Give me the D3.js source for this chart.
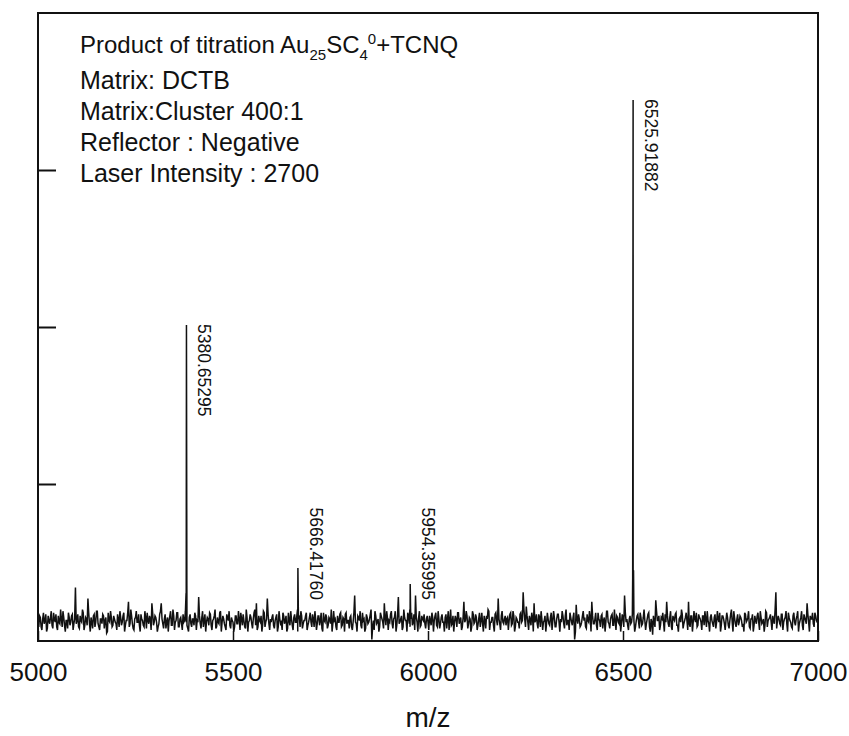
<!DOCTYPE html>
<html><head><meta charset="utf-8">
<script src="https://cdn.jsdelivr.net/npm/d3@7/dist/d3.min.js"></script>
<style>
body{margin:0;background:#fff}
text{font-family:"Liberation Sans",Arial,Helvetica,sans-serif;fill:#111}
</style>
</head><body>
<svg id="chart" width="849" height="736"></svg>
<script>
// ---------- data ----------
const xDomain = [5000, 7000];
const yDomain = [0, 400];
const xTicks = [5000, 5500, 6000, 6500, 7000];
const yTicks = [100, 200, 300];
const xLabel = "m/z";

// baseline noise: noiseA at 5000,5004,...; noiseB at 5002,5006,...
const noiseStart = 5000, noiseStep = 4;
const noiseA = [
 12,16,9,14,11,17,8,13,15,10,18,12,9,16,11,14,19,10,13,8,15,12,17,11,34,
 13,9,16,12,18,10,14,27,11,15,8,17,12,19,9,14,11,16,13,5,18,12,15,10,14,
 11,17,9,15,12,18,10,13,25,11,16,8,14,19,12,10,17,13,9,15,18,11,14,24,10,
 16,12,9,17,24,11,14,8,15,13,19,10,16,12,18,9,14,11,17,13,12,8,15,11,14,
 10,16,13,28,11,15,9,17,12,14,18,10,13,16,8,15,11,19,12,14,9,17,13,10,15,
 12,9,16,11,14,18,10,13,8,15,12,17,11,14,20,24,9,13,16,10,18,12,27,11,14,
 15,10,13,17,9,14,12,18,11,16,8,13,19,10,15,12,17,14,9,16,11,13,18,10,15,
 12,17,9,14,11,16,13,8,18,12,15,10,14,20,11,13,9,16,12,18,10,14,17,11,13,
 15,9,12,29,11,16,13,10,18,14,8,15,12,17,1,13,19,11,14,9,16,12,24,10,15,
 13,17,11,14,19,10,28,12,16,9,15,13,18,11,14,10,17,29,12,15,9,16,13,11,14,
 12,16,10,15,13,18,9,14,11,17,12,15,8,19,13,10,16,12,14,18,11,15,9,25,13,
 16,11,14,9,17,12,15,10,18,13,11,16,8,14,19,12,15,10,17,13,27,11,16,12,14,
 10,15,13,18,11,16,9,14,12,17,12,31,14,22,12,16,10,15,24,13,11,17,9,14,12,
 16,11,14,10,18,13,15,9,17,12,14,19,11,16,10,13,18,12,15,1,23,11,14,10,16,
 13,9,17,12,15,25,11,14,10,18,13,16,8,15,12,19,11,14,17,10,13,16,12,18,11,
 15,29,12,10,14,11,17,13,9,16,12,18,10,15,13,11,17,9,14,4,12,26,13,16,10,
 14,12,17,25,11,15,9,16,13,18,10,14,12,17,11,15,13,25,9,16,12,14,18,10,15,
 12,16,10,14,19,11,15,13,9,17,12,14,18,10,16,11,13,15,8,17,12,19,11,14,10,
 16,13,11,18,12,15,9,14,17,10,13,16,12,19,11,14,10,18,13,15,12,16,11,31,13,
 14,10,17,12,15,11,18,13,9,16,12,14,19,11,15,10,17,13,24,12,16,14,11,18,13,
 12
];
const noiseB = [
 9,15,7,18,13,6,16,11,19,8,14,17,7,12,20,9,15,6,13,18,10,16,7,14,11,
 17,8,13,20,7,15,10,18,6,12,16,9,19,11,7,14,17,8,15,6,13,19,9,16,12,
 7,14,19,10,16,6,13,18,9,20,11,7,15,12,17,6,14,10,19,8,13,16,7,18,12,
 15,6,11,19,14,8,17,12,6,16,10,20,7,13,18,9,15,7,12,19,10,6,17,9,14,
 18,7,12,16,8,19,13,6,15,10,17,7,14,20,9,12,18,6,16,11,7,15,19,8,13,
 6,16,11,19,7,14,17,9,20,6,13,15,8,18,10,7,16,12,6,19,9,14,17,7,12,
 17,8,15,6,19,11,7,16,13,6,18,10,14,7,17,12,6,15,19,8,13,16,7,12,18,
 9,14,19,7,16,10,18,6,13,17,8,15,11,6,19,14,7,12,17,9,15,6,18,13,8,
 16,7,18,12,6,15,19,8,13,6,17,11,14,20,9,7,16,12,6,18,14,8,15,19,7,
 12,19,8,15,6,17,11,14,7,20,13,6,16,9,18,12,7,15,6,19,10,14,17,8,16,
 7,13,18,6,16,10,19,8,15,12,6,17,14,7,20,11,6,16,9,18,13,7,15,12,19,
 8,15,6,19,11,17,7,14,9,18,6,13,16,20,7,12,15,6,18,10,14,7,19,11,16,
 14,7,17,10,19,6,15,12,8,18,13,20,9,16,7,14,18,6,12,17,8,15,19,7,13,
 6,18,11,15,7,19,9,14,17,6,12,16,8,20,13,7,15,10,18,6,14,17,9,12,19,
 15,8,13,19,6,16,11,18,7,14,9,17,13,6,19,12,8,16,10,20,7,15,11,6,17,
 9,18,14,7,16,12,19,6,13,17,8,15,11,20,7,14,18,6,12,16,9,19,13,7,15,
 18,6,12,16,9,19,7,14,17,10,6,15,20,8,13,18,7,11,16,6,19,12,9,17,14,
 7,16,19,9,13,6,17,11,15,8,19,12,6,16,14,7,18,10,13,20,6,15,9,17,12,
 15,9,6,17,13,19,8,14,6,16,11,18,7,15,12,6,19,9,14,17,7,13,20,8,16,
 11,17,7,14,19,6,15,12,8,18,10,16,6,13,19,7,15,11,17,6,14,18,9,16,12
];

// labelled peaks
const peakMz      = [5380.65295, 5666.41760, 5954.35995, 6525.91882];
const peakLabels  = ["5380.65295", "5666.41760", "5954.35995", "6525.91882"];
const peakHeights = [201.3, 46.5, 36.3, 344.6];
const peakLeftMz  = [5379.6, 5665.4, 5953.4, 6524.8];
const peakLeftV   = [30, 20, 20, 40];
const peakRightMz = [5381.7, 5667.4, 5955.3, 6527.0];
const peakRightV  = [35, 22, 21, 45];

const infoLines = ["Matrix: DCTB", "Matrix:Cluster 400:1", "Reflector : Negative", "Laser Intensity : 2700"];

// ---------- layout ----------
const L = 38, R = 818, T = 13, B = 641;
const svg = d3.select("#chart");
const x = d3.scaleLinear().domain(xDomain).range([L, R]);
const y = d3.scaleLinear().domain(yDomain).range([B, T]);

// build trace
const pts = noiseA.map((v, i) => ({mz: noiseStart + i * noiseStep, v}))
  .concat(noiseB.map((v, i) => ({mz: noiseStart + noiseStep / 2 + i * noiseStep, v})));
peakMz.forEach((m, i) => {
  pts.push({mz: peakLeftMz[i], v: peakLeftV[i]});
  pts.push({mz: m, v: peakHeights[i]});
  pts.push({mz: peakRightMz[i], v: peakRightV[i]});
});
pts.sort((a, b) => a.mz - b.mz);

svg.append("clipPath").attr("id", "clip")
  .append("rect").attr("x", L).attr("y", T).attr("width", R - L).attr("height", B - T);

const line = d3.line().x(d => x(d.mz)).y(d => y(d.v));
svg.append("path").datum(pts)
  .attr("clip-path", "url(#clip)")
  .attr("d", line)
  .attr("fill", "none")
  .attr("stroke", "#111")
  .attr("stroke-width", 1.5)
  .attr("stroke-linejoin", "miter");

// axes (inward ticks)
const yAxis = svg.append("g").attr("transform", `translate(${L},0)`)
  .call(d3.axisLeft(y).tickValues(yTicks).tickSize(-18).tickFormat(""));
yAxis.select(".domain").remove();
yAxis.selectAll(".tick line").attr("stroke", "#111").attr("stroke-width", 2);

const xAxis = svg.append("g").attr("transform", `translate(0,${B})`)
  .call(d3.axisBottom(x).tickValues(xTicks).tickSize(-10).tickPadding(22).tickFormat(d3.format("d")));
xAxis.select(".domain").remove();
xAxis.selectAll(".tick line").attr("stroke", "#111").attr("stroke-width", 1.5);
xAxis.selectAll(".tick text").attr("font-size", 26).attr("fill", "#111")
  .style("font-family", '"Liberation Sans",Arial,sans-serif');

// frame
svg.append("rect").attr("x", L).attr("y", T).attr("width", R - L).attr("height", B - T)
  .attr("fill", "none").attr("stroke", "#111").attr("stroke-width", 2);

// x label
svg.append("text").attr("x", (L + R) / 2).attr("y", 727)
  .attr("text-anchor", "middle").attr("font-size", 28).text(xLabel);

// peak labels (rotated)
const labelFloor = 85;
peakMz.forEach((m, i) => {
  const px = x(m) + 12;
  const py = Math.min(y(peakHeights[i]) - 1, y(labelFloor));
  svg.append("text")
    .attr("transform", `translate(${px},${py}) rotate(90)`)
    .attr("font-size", 17.5)
    .text(peakLabels[i]);
});

// annotation block
const t1 = svg.append("text").attr("x", 80).attr("y", 53).attr("font-size", 24);
t1.append("tspan").text("Product of titration Au");
t1.append("tspan").attr("font-size", 15).attr("dy", 7).text("25");
t1.append("tspan").attr("dy", -7).text("SC");
t1.append("tspan").attr("font-size", 15).attr("dy", 7).text("4");
t1.append("tspan").attr("font-size", 15).attr("dy", -16).text("0");
t1.append("tspan").attr("dy", 9).text("+TCNQ");

infoLines.forEach((s, i) => {
  svg.append("text").attr("x", 80).attr("y", 89 + i * 31).attr("font-size", 25).text(s);
});
</script>
</body></html>
